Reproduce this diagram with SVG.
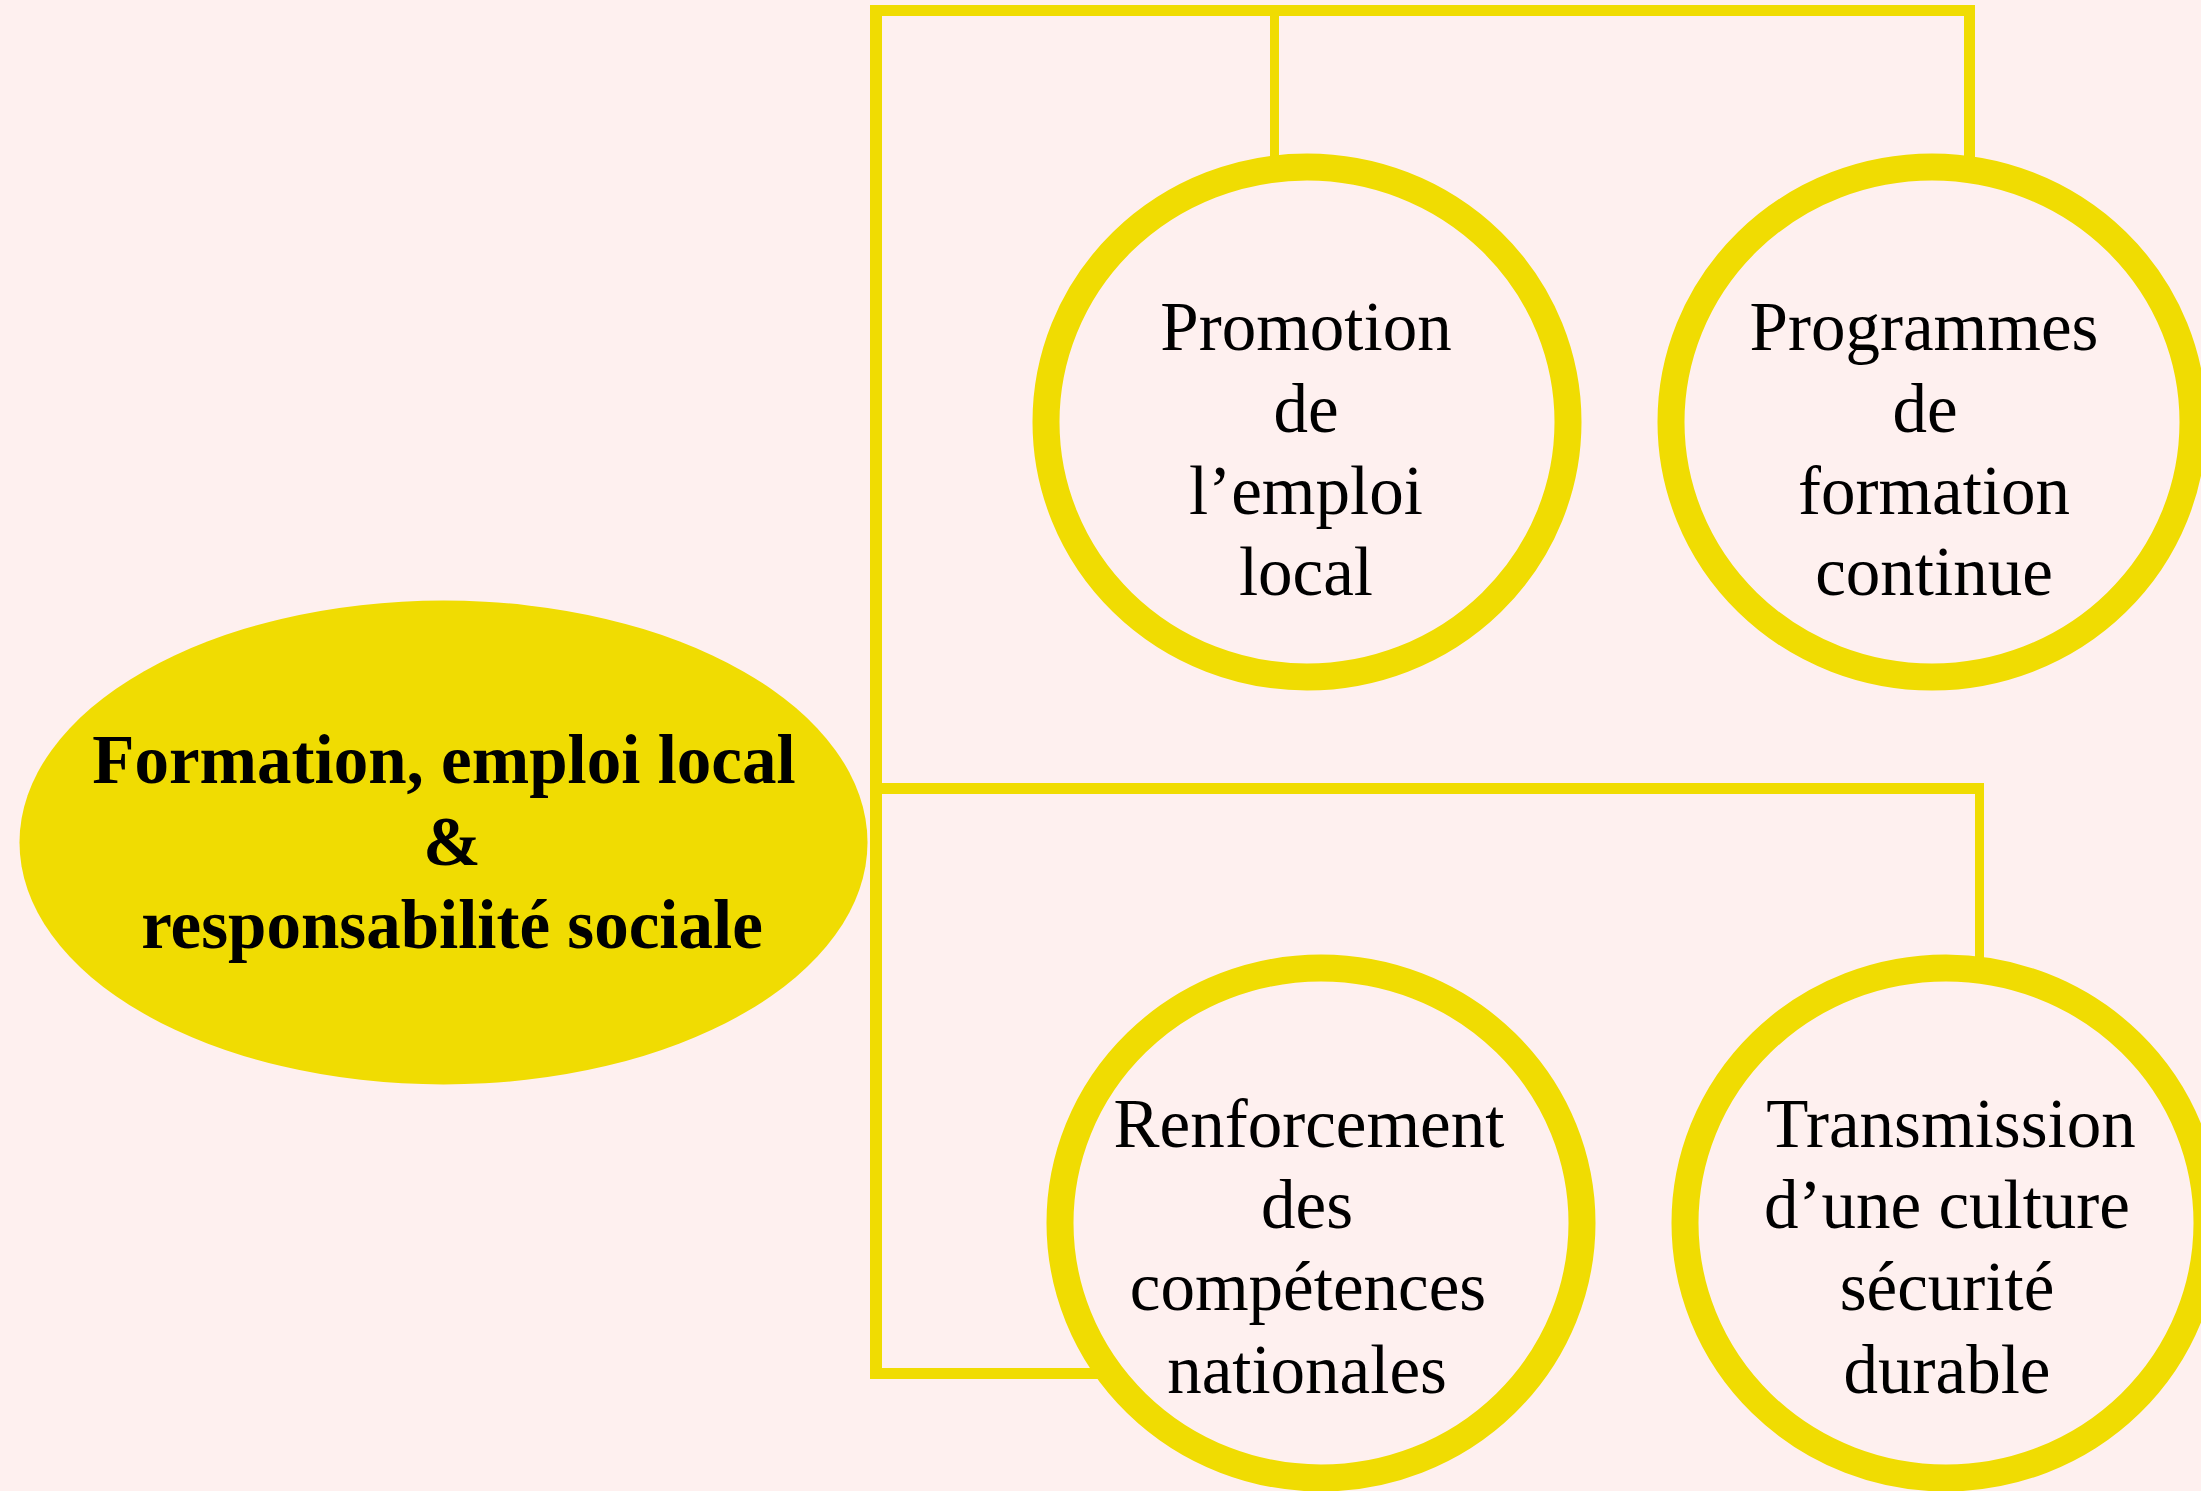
<svg xmlns="http://www.w3.org/2000/svg" width="2201" height="1491" viewBox="0 0 2201 1491">
<style>
.bg{fill:#FEF0EF}
.ln{stroke:#F0DC02;fill:none;stroke-linecap:butt}
.ring{fill:#FEF0EF;stroke:#F0DC02;stroke-width:27}
.t{font-family:"Liberation Serif","Times New Roman",serif;font-size:69px;fill:#000;text-anchor:middle}
.tb{font-family:"Liberation Serif","Times New Roman",serif;font-size:69px;font-weight:bold;fill:#000;text-anchor:middle}
</style>
<rect class="bg" x="0" y="0" width="2201" height="1491"/>
<g id="connectors">
<line class="ln" x1="876" y1="5" x2="876" y2="1379" stroke-width="12"/>
<line class="ln" x1="870" y1="10.5" x2="1975" y2="10.5" stroke-width="11"/>
<line class="ln" x1="1274.5" y1="10" x2="1274.5" y2="170" stroke-width="9"/>
<line class="ln" x1="1969.5" y1="5" x2="1969.5" y2="170" stroke-width="11"/>
<line class="ln" x1="876" y1="788.5" x2="1984" y2="788.5" stroke-width="11"/>
<line class="ln" x1="1979.5" y1="783" x2="1979.5" y2="970" stroke-width="9"/>
<line class="ln" x1="870" y1="1373.5" x2="1120" y2="1373.5" stroke-width="11"/>
</g>
<g id="node-main">
<ellipse cx="443.5" cy="842.5" rx="424" ry="242" fill="#F0DC02"/>
<text class="tb" x="444" y="783">Formation, emploi local</text>
<text class="tb" x="452" y="865">&amp;</text>
<text class="tb" x="452" y="948">responsabilité sociale</text>
</g>
<g id="node-promotion">
<ellipse class="ring" cx="1307" cy="422" rx="261" ry="255"/>
<text class="t" x="1306" y="350">Promotion</text>
<text class="t" x="1306" y="432">de</text>
<text class="t" x="1306" y="514">l’emploi</text>
<text class="t" x="1306" y="595">local</text>
</g>
<g id="node-programmes">
<ellipse class="ring" cx="1932" cy="422" rx="261" ry="255"/>
<text class="t" x="1924" y="350">Programmes</text>
<text class="t" x="1925" y="432">de</text>
<text class="t" x="1934" y="514">formation</text>
<text class="t" x="1934" y="595">continue</text>
</g>
<g id="node-renforcement">
<ellipse class="ring" cx="1321" cy="1223" rx="261" ry="255"/>
<text class="t" x="1309" y="1147">Renforcement</text>
<text class="t" x="1307" y="1228">des</text>
<text class="t" x="1308" y="1310">compétences</text>
<text class="t" x="1307" y="1393">nationales</text>
</g>
<g id="node-transmission">
<ellipse class="ring" cx="1946" cy="1223" rx="261" ry="255"/>
<text class="t" x="1951" y="1147">Transmission</text>
<text class="t" x="1947" y="1228">d’une culture</text>
<text class="t" x="1947" y="1310">sécurité</text>
<text class="t" x="1947" y="1393">durable</text>
</g>
</svg>
